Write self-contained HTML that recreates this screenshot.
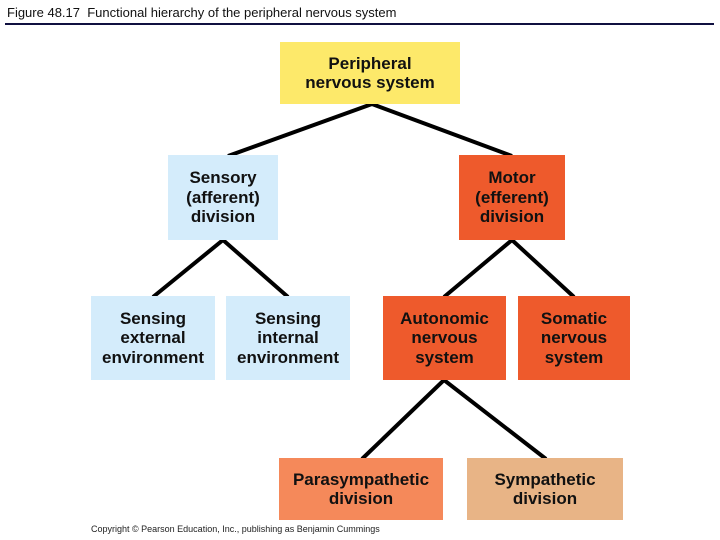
<!DOCTYPE html>
<html><head><style>
body{margin:0;width:720px;height:540px;background:#fff;position:relative;overflow:hidden;font-family:"Liberation Sans",sans-serif}
.b{position:absolute;display:flex;align-items:center;justify-content:center;text-align:center;font-weight:bold;font-size:17px;line-height:19.5px;color:#111}
</style></head><body>
<div style="position:absolute;left:7px;top:5px;font-size:13px;color:#111">Figure 48.17&nbsp; Functional hierarchy of the peripheral nervous system</div>
<div style="position:absolute;left:5px;top:23px;width:709px;height:2px;background:#101040"></div>
<svg style="position:absolute;left:0;top:0" width="720" height="540">
<g stroke="#000" stroke-width="4" fill="none">
<polyline points="228,156 372,104 512,156"/>
<polyline points="153,297 223,240 288,297"/>
<polyline points="444,297 512,240 574,297"/>
<polyline points="362,459 444,380 546,459"/>
</g></svg>
<div class="b" style="left:280px;top:42px;width:180px;height:62px;background:#fde96a">Peripheral<br>nervous system</div>
<div class="b" style="left:168px;top:155px;width:110px;height:85px;background:#d4ecfb">Sensory<br>(afferent)<br>division</div>
<div class="b" style="left:459px;top:155px;width:106px;height:85px;background:#ee5a2c">Motor<br>(efferent)<br>division</div>
<div class="b" style="left:91px;top:296px;width:124px;height:84px;background:#d4ecfb">Sensing<br>external<br>environment</div>
<div class="b" style="left:226px;top:296px;width:124px;height:84px;background:#d4ecfb">Sensing<br>internal<br>environment</div>
<div class="b" style="left:383px;top:296px;width:123px;height:84px;background:#ee5a2c">Autonomic<br>nervous<br>system</div>
<div class="b" style="left:518px;top:296px;width:112px;height:84px;background:#ee5a2c">Somatic<br>nervous<br>system</div>
<div class="b" style="left:279px;top:458px;width:164px;height:62px;background:#f5895a">Parasympathetic<br>division</div>
<div class="b" style="left:467px;top:458px;width:156px;height:62px;background:#e8b486">Sympathetic<br>division</div>
<div style="position:absolute;left:91px;top:524px;font-size:9px;color:#222">Copyright © Pearson Education, Inc., publishing as Benjamin Cummings</div>
</body></html>
